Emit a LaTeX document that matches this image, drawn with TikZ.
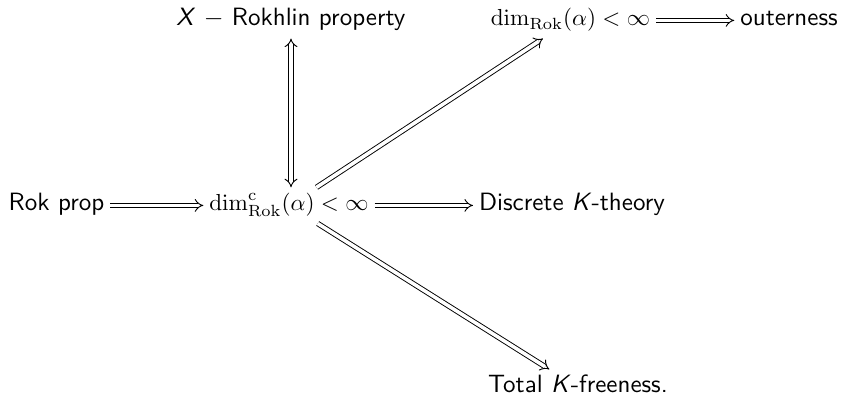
\documentclass[tikz,border=0pt]{standalone}
\usetikzlibrary{arrows.meta,cd}
\begin{document}
\begin{tikzpicture}[x=0.4314pt,y=-0.4314pt,
  lbl/.style={anchor=base, inner xsep=2.4pt, inner ysep=2pt, text height=8pt, text depth=3.2pt, font=\fontsize{10.8}{13}\selectfont\sffamily},
  mlbl/.style={lbl, font=\fontsize{10}{12}\selectfont},
  imp/.style={double, double equal sign distance, -{tikzcd implies}}]
\useasboundingbox (0,0) rectangle (844,395);
\node[lbl]  (XR)   at (291,26)   {\textit{X} $-$ Rokhlin property};
\node[mlbl] (dimR) at (570.5,26) {$\dim_{\mathrm{Rok}}(\alpha)<\infty$};
\node[lbl]  (out)  at (789,26)   {outerness};
\node[lbl]  (rok)  at (56.5,211) {Rok prop};
\node[mlbl] (dimc) at (289,211)  {$\dim^{\mathrm{c}}_{\mathrm{Rok}}(\alpha)<\infty$};
\node[lbl]  (disc) at (572,211)  {Discrete \textit{K}-theory};
\node[lbl]  (tot)  at (578,393)  {Total \textit{K}-freeness.};
\draw[imp] (rok) -- (dimc);
\draw[imp] (dimc) -- (disc);
\draw[imp] (dimR) -- (out);
\draw[imp] (dimc) -- (dimR);
\draw[imp] (dimc) -- (tot);
\draw[double, double equal sign distance, {tikzcd implies}-{tikzcd implies}] (XR.south) -- (XR.south |- dimc.north);
\end{tikzpicture}
\end{document}
